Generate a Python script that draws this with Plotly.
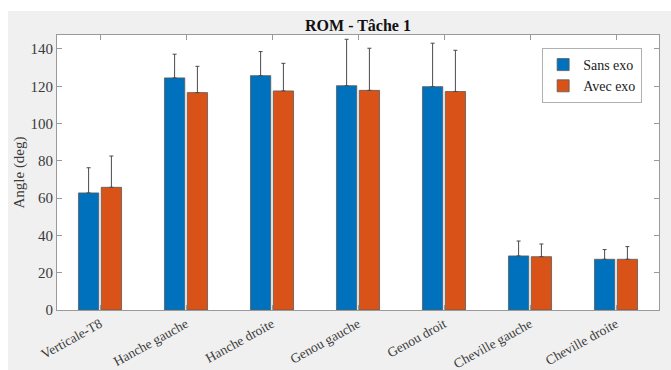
import plotly.graph_objects as go

# Range of motion per joint, task 1
categories = ["Verticale-T8", "Hanche gauche", "Hanche droite", "Genou gauche",
              "Genou droit", "Cheville gauche", "Cheville droite"]
sans_exo = [62.8, 124.5, 125.7, 120.3, 119.8, 29.0, 27.2]
sans_exo_sd = [13.5, 12.7, 12.9, 24.9, 23.3, 8.0, 5.2]
avec_exo = [65.8, 116.6, 117.5, 117.8, 117.2, 28.6, 27.2]
avec_exo_sd = [16.8, 14.1, 14.8, 22.6, 22.1, 6.8, 6.8]
y_ticks = [0, 20, 40, 60, 80, 100, 120, 140]

BLUE = "#0072BD"
ORANGE = "#D95319"
FONT = "Liberation Serif"
TEXT = "#3a3a3a"
AXIS = "#9a9a9a"

def err(values):
    return dict(type="data", array=values, arrayminus=[0] * len(values),
                symmetric=False, color="#4a4a4a", thickness=1, width=2)

fig = go.Figure()
fig.add_trace(go.Bar(x=categories, y=sans_exo, name="Sans exo",
                     marker=dict(color=BLUE, line=dict(color="#5a5a5a", width=0.8)),
                     error_y=err(sans_exo_sd)))
fig.add_trace(go.Bar(x=categories, y=avec_exo, name="Avec exo",
                     marker=dict(color=ORANGE, line=dict(color="#5a5a5a", width=0.8)),
                     error_y=err(avec_exo_sd)))

# figure frame: white strip on top and left, grey panel elsewhere
for x0, x1, y0, y1 in [(-0.2, 1.2, 1.0873, 1.2), (-0.2, -0.0814, -0.4, 1.2)]:
    fig.add_shape(type="rect", xref="paper", yref="paper", x0=x0, x1=x1, y0=y0, y1=y1,
                  fillcolor="white", line_width=0, layer="above")

fig.update_layout(
    width=671, height=370,
    margin=dict(l=57, r=12, t=35, b=60, autoexpand=False),
    paper_bgcolor="#f0f0f0", plot_bgcolor="white",
    barmode="group", bargap=0.47, bargroupgap=0.11,
    font=dict(family=FONT, color=TEXT, size=14),
    title=dict(text="<b>ROM - Tâche 1</b>", x=0.5, xref="paper", xanchor="center",
               y=1 - 25 / 370, yref="container", yanchor="middle",
               font=dict(family=FONT, size=16, color="#111111")),
    legend=dict(x=0.972, y=0.9527, xanchor="right", yanchor="top",
                bgcolor="white", bordercolor="#b0b0b0", borderwidth=1,
                font=dict(family=FONT, size=14, color="#222222"),
                tracegroupgap=0, itemwidth=30),
    showlegend=True,
)
fig.update_xaxes(
    type="category", range=[-0.5, 6.5], tickangle=-29, automargin=False,
    showline=True, linecolor=AXIS, linewidth=1, mirror="allticks",
    ticks="inside", ticklen=5, tickcolor=AXIS,
    tickfont=dict(family=FONT, size=13.5, color=TEXT),
    showgrid=False,
)
fig.update_yaxes(
    range=[0, 147.5], tickvals=y_ticks, automargin=False,
    showline=True, linecolor=AXIS, linewidth=1, mirror="allticks",
    ticks="inside", ticklen=5, tickcolor=AXIS,
    tickfont=dict(family=FONT, size=15, color=TEXT),
    showgrid=False, zeroline=False,
    title=dict(text="Angle (deg)", standoff=2,
               font=dict(family=FONT, size=15, color=TEXT)),
)

fig.write_html("out.html")
